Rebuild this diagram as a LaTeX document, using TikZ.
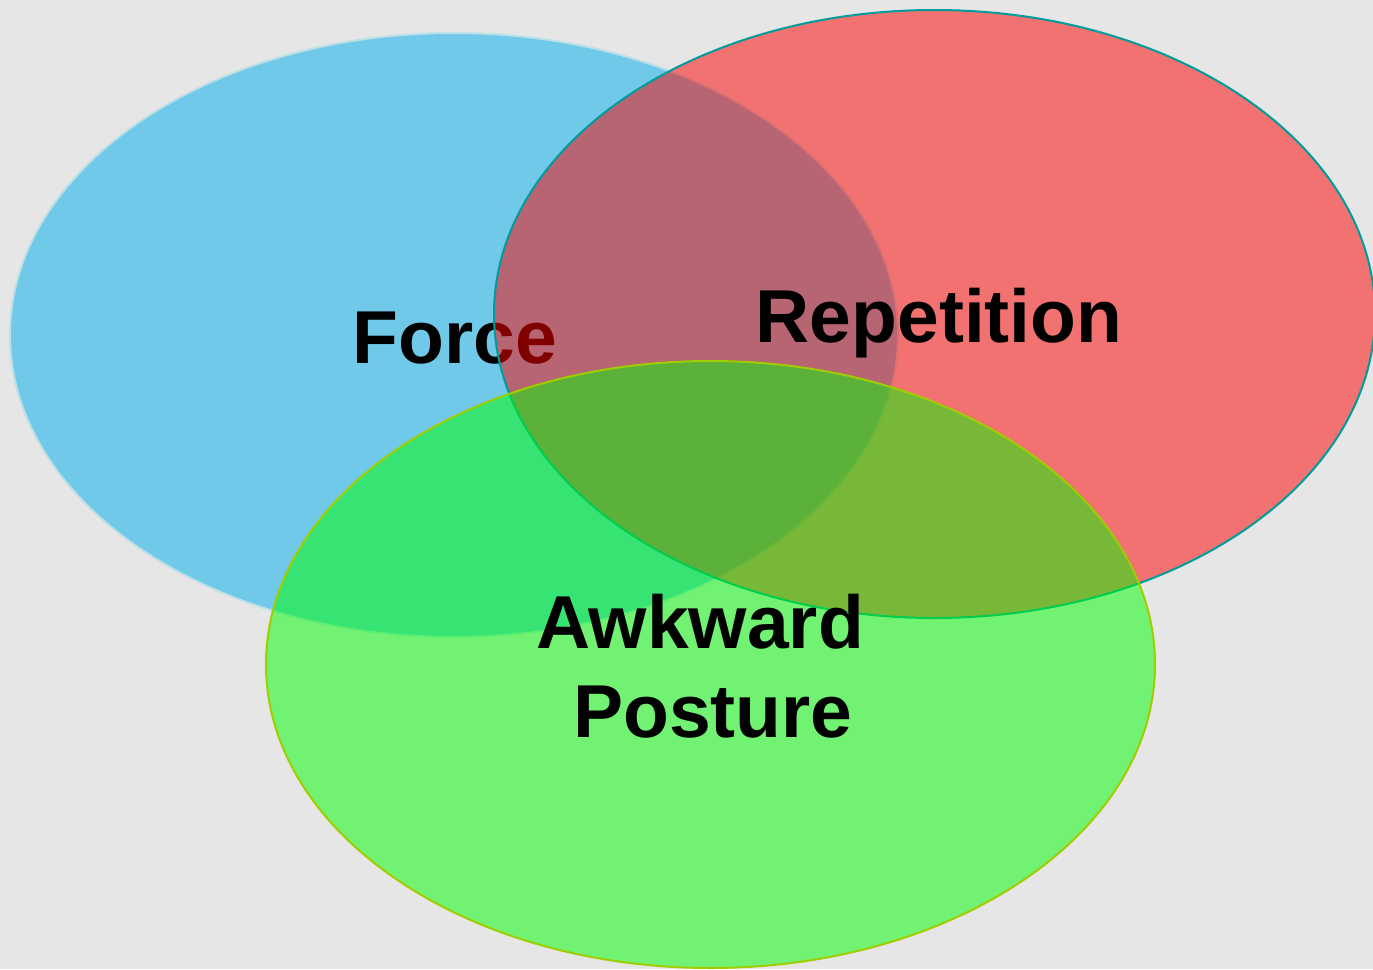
\documentclass[tikz,border=0pt]{standalone}
\usepackage{fontspec}
\setmainfont{Liberation Sans}
\usetikzlibrary{shapes.geometric}
\definecolor{bg}{RGB}{230,230,230}
\definecolor{fblue}{RGB}{112,201,232}
\definecolor{bblue}{RGB}{188,224,230}
\definecolor{fred}{RGB}{255,0,0}
\definecolor{bred}{RGB}{0,155,155}
\definecolor{fgreen}{RGB}{0,255,0}
\definecolor{bgreen}{RGB}{160,205,0}
\tikzset{
  setbox/.style={ellipse, inner sep=0pt, line width=2pt},
  lbl/.style={anchor=base, inner sep=0pt, font=\fontsize{75}{90}\selectfont\bfseries, text=black}
}
\begin{document}
\begin{tikzpicture}[x=1pt,y=-1pt]
\useasboundingbox (0,0) rectangle (1373,969);
\fill[bg] (0,0) rectangle (1373,969);
\clip (0,0) rectangle (1373,969);
\node[setbox, draw=bblue, fill=fblue, minimum width=888pt, minimum height=604pt] (force) at (454,335) {};
\node[lbl] (forcet) at (455,363) {Force};
\node[setbox, draw=bred, fill=fred, fill opacity=0.5, draw opacity=1, minimum width=881pt, minimum height=608pt] (rep) at (934.5,314) {};
\node[lbl] (rept) at (939,342) {Repetition};
\node[setbox, draw=bgreen, fill=fgreen, fill opacity=0.5, draw opacity=1, minimum width=889pt, minimum height=607pt] (awk) at (710.5,664.5) {};
\node[lbl] (awkt1) at (700,648) {Awkward};
\node[lbl] (awkt2) at (713,737) {Posture};
\end{tikzpicture}
\end{document}
